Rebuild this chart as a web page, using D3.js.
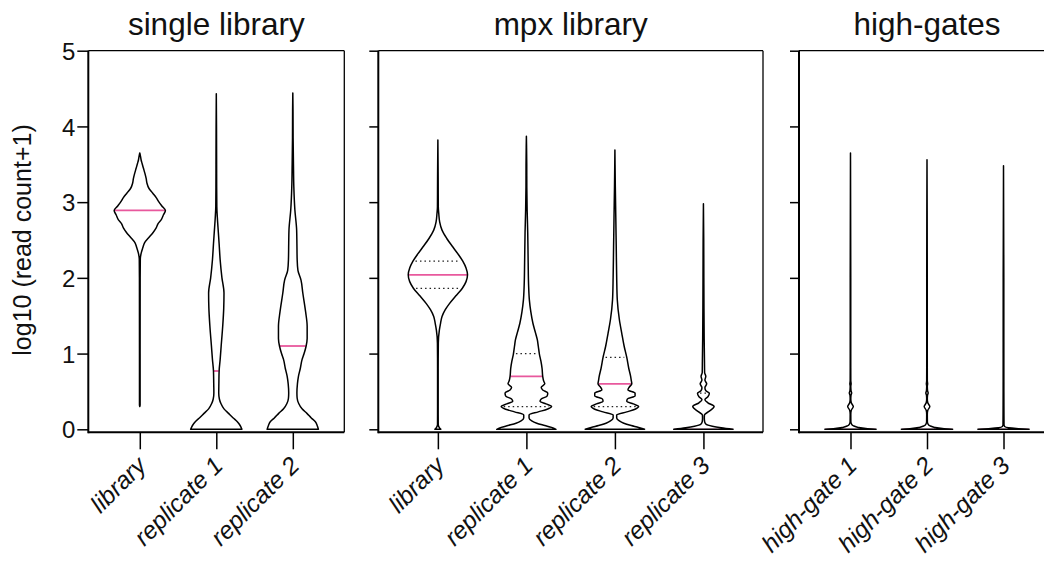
<!DOCTYPE html>
<html><head><meta charset="utf-8">
<script src="https://cdn.jsdelivr.net/npm/d3@7"></script>
<style>
body{margin:0;background:#fff}
text{font-family:"Liberation Sans", Arial, Helvetica, sans-serif;fill:#111}
</style>
</head><body><svg id="c" width="1044" height="563"></svg>
<script>
// ---------------- data ----------------
const panelTitles = ["single library", "mpx library", "high-gates"];
const categoriesSingle = ["library", "replicate 1", "replicate 2"];
const categoriesMpx = ["library", "replicate 1", "replicate 2", "replicate 3"];
const categoriesGates = ["high-gate 1", "high-gate 2", "high-gate 3"];
const yTicks = [0, 1, 2, 3, 4, 5];
const yLabel = "log10 (read count+1)";

// densities: [log10 value, relative density (max = 1)]
const singleLibrary = [[0.30,0],[0.32,0.012],[1.0,0.012],[2.0,0.014],[2.25,0.02],[2.32,0.05],[2.40,0.12],[2.46,0.18],[2.54,0.37],[2.60,0.52],[2.66,0.64],[2.72,0.72],[2.77,0.84],[2.83,0.92],[2.89,1.0],[2.95,0.86],[3.01,0.73],[3.06,0.64],[3.12,0.5],[3.18,0.36],[3.25,0.28],[3.31,0.25],[3.38,0.2],[3.45,0.14],[3.51,0.09],[3.56,0.05],[3.60,0.03],[3.65,0]];
const singleRep1 = [[0,1.0],[0.05,0.93],[0.10,0.82],[0.15,0.66],[0.21,0.48],[0.27,0.3],[0.34,0.18],[0.40,0.12],[0.48,0.095],[0.6,0.1],[0.77,0.11],[0.92,0.15],[1.1,0.19],[1.36,0.25],[1.6,0.29],[1.8,0.30],[2.0,0.22],[2.24,0.15],[2.45,0.11],[2.6,0.08],[2.8,0.04],[2.94,0.02],[3.2,0.014],[3.5,0.012],[4.0,0.008],[4.43,0]];
const singleRep2 = [[0,1.0],[0.05,0.95],[0.10,0.88],[0.15,0.72],[0.21,0.55],[0.27,0.36],[0.34,0.23],[0.41,0.17],[0.48,0.16],[0.6,0.18],[0.7,0.22],[0.8,0.29],[0.92,0.36],[1.0,0.44],[1.1,0.52],[1.2,0.56],[1.36,0.56],[1.55,0.5],[1.8,0.39],[1.97,0.32],[2.1,0.2],[2.24,0.17],[2.45,0.16],[2.63,0.15],[2.9,0.08],[3.2,0.04],[3.5,0.025],[3.85,0.012],[4.2,0.008],[4.44,0]];
const mpxLibrary = [[0,0.1],[0.03,0.04],[0.06,0.012],[0.3,0.01],[0.8,0.01],[1.14,0.015],[1.31,0.05],[1.40,0.09],[1.49,0.14],[1.58,0.25],[1.66,0.39],[1.76,0.6],[1.86,0.82],[1.95,0.95],[2.04,1.0],[2.13,0.95],[2.22,0.84],[2.32,0.67],[2.41,0.5],[2.52,0.3],[2.63,0.14],[2.74,0.06],[2.85,0.03],[2.94,0.014],[3.3,0.01],[3.82,0]];
const mpxRep1 = [[0,1.0],[0.025,0.85],[0.05,0.62],[0.08,0.35],[0.11,0.18],[0.15,0.09],[0.19,0.09],[0.23,0.4],[0.265,0.7],[0.30,0.85],[0.335,0.66],[0.37,0.46],[0.40,0.5],[0.44,0.7],[0.48,0.72],[0.52,0.55],[0.555,0.5],[0.60,0.62],[0.64,0.58],[0.70,0.55],[0.8,0.53],[0.9,0.49],[0.99,0.44],[1.1,0.4],[1.18,0.37],[1.27,0.31],[1.4,0.22],[1.55,0.15],[1.71,0.1],[1.9,0.075],[2.2,0.06],[2.6,0.045],[2.9,0.025],[3.2,0.014],[3.5,0.012],[3.87,0]];
const mpxRep2 = [[0,1.0],[0.025,0.8],[0.05,0.55],[0.08,0.3],[0.11,0.15],[0.15,0.06],[0.19,0.06],[0.23,0.4],[0.265,0.68],[0.30,0.8],[0.335,0.62],[0.37,0.4],[0.40,0.42],[0.44,0.68],[0.48,0.68],[0.52,0.44],[0.555,0.48],[0.60,0.57],[0.65,0.55],[0.70,0.53],[0.8,0.47],[0.95,0.4],[1.1,0.31],[1.27,0.23],[1.45,0.15],[1.71,0.08],[2.0,0.06],[2.4,0.045],[2.8,0.03],[3.2,0.014],[3.69,0]];
const mpxRep3 = [[0,1.0],[0.02,0.6],[0.04,0.3],[0.07,0.08],[0.10,0.04],[0.15,0.03],[0.19,0.035],[0.24,0.2],[0.30,0.36],[0.35,0.15],[0.39,0.05],[0.43,0.15],[0.477,0.2],[0.51,0.08],[0.55,0.05],[0.60,0.11],[0.65,0.05],[0.70,0.08],[0.75,0.04],[0.9,0.035],[1.2,0.025],[1.6,0.018],[2.0,0.014],[2.5,0.01],[2.98,0]];
const gate1 = [[0,1.0],[0.01,0.6],[0.025,0.3],[0.045,0.12],[0.07,0.04],[0.1,0.015],[0.2,0.012],[0.25,0.03],[0.30,0.11],[0.35,0.03],[0.40,0.012],[0.45,0.02],[0.48,0.045],[0.51,0.02],[0.57,0.012],[0.60,0.025],[0.64,0.012],[1.0,0.01],[2.0,0.01],[3.65,0]];
const gate2 = [[0,1.0],[0.01,0.6],[0.025,0.3],[0.045,0.12],[0.07,0.04],[0.1,0.015],[0.2,0.012],[0.25,0.03],[0.30,0.11],[0.35,0.03],[0.40,0.012],[0.45,0.02],[0.48,0.045],[0.51,0.02],[0.57,0.012],[0.60,0.025],[0.64,0.012],[1.0,0.01],[2.0,0.01],[3.56,0]];
const gate3 = [[0,1.0],[0.01,0.5],[0.02,0.2],[0.035,0.05],[0.06,0.02],[0.3,0.016],[0.5,0.014],[1.0,0.013],[2.0,0.012],[3.48,0]];

const mediansSingle = [2.89, 0.77, 1.10];
const mediansMpx = [2.04, 0.70, 0.60, 0.0];
const q1Mpx = [1.86, 0.30, 0.30, null];
const q3Mpx = [2.22, 1.00, 0.95, 0.477];
const mediansGates = [0, 0, 0];

const panelsData = [
  {title: panelTitles[0], cats: categoriesSingle, dens: [singleLibrary, singleRep1, singleRep2], med: mediansSingle, q1: [null,null,null], q3: [null,null,null]},
  {title: panelTitles[1], cats: categoriesMpx, dens: [mpxLibrary, mpxRep1, mpxRep2, mpxRep3], med: mediansMpx, q1: q1Mpx, q3: q3Mpx},
  {title: panelTitles[2], cats: categoriesGates, dens: [gate1, gate2, gate3], med: mediansGates, q1: [null,null,null], q3: [null,null,null]}
];

// ---------------- layout ----------------
const svg = d3.select("#c");
const yTop = 50.7, yZero = 429.3, axisY = 432.3;
const y = d3.scaleLinear().domain([0, 5]).range([yZero, yTop]);
const panelX = [[88.3, 344.3], [378.3, 763], [799, 1055]];
const pink = "#e8589d";

function interp(dens, v) {
  for (let i = 1; i < dens.length; i++) {
    if (v <= dens[i][0]) {
      const a = dens[i-1], b = dens[i];
      const t = (v - a[0]) / (b[0] - a[0] || 1);
      return a[1] + t * (b[1] - a[1]);
    }
  }
  return dens[dens.length-1][1];
}

panelsData.forEach((p, pi) => {
  const [x0, x1] = panelX[pi];
  const x = d3.scalePoint().domain(p.cats).range([x0, x1]).padding(0.673);
  const w = d3.scaleLinear().domain([0, 1]).range([0, x.step() * 0.335]);
  const g = svg.append("g");

  g.append("text").attr("x", (x0 + x1) / 2).attr("y", 35).attr("text-anchor", "middle")
    .style("font-size", "31.5px").text(p.title);

  p.cats.forEach((c, ci) => {
    const cx = x(c);
    const d = p.dens[ci];
    const area = d3.area()
      .y(e => y(e[0]))
      .x0(e => cx - w(e[1]))
      .x1(e => cx + w(e[1]))
      .curve(d3.curveMonotoneY);
    g.append("path").attr("d", area(d)).attr("fill", "#fff").attr("stroke", "none");
    [p.q1[ci], p.q3[ci]].forEach(q => {
      if (q === null) return;
      const hw = w(interp(d, q)) - 2.5;
      g.append("line").attr("x1", cx - hw).attr("x2", cx + hw).attr("y1", y(q)).attr("y2", y(q))
        .attr("stroke", "#222").attr("stroke-width", 1.2).attr("stroke-dasharray", "1.5,3");
    });
    const m = p.med[ci];
    const mw = w(interp(d, m)) - 0.5;
    g.append("line").attr("x1", cx - mw).attr("x2", cx + mw).attr("y1", y(m)).attr("y2", y(m))
      .attr("stroke", pink).attr("stroke-width", m > 0 ? 1.8 : 1.2);
    g.append("path").attr("d", area(d)).attr("fill", "none").attr("stroke", "#000")
      .attr("stroke-width", 1.5).attr("stroke-linejoin", "round");
  });

  g.append("line").attr("x1", x0).attr("x2", x1).attr("y1", yTop).attr("y2", yTop).attr("stroke", "#000").attr("stroke-width", 1.3);
  g.append("line").attr("x1", x1).attr("x2", x1).attr("y1", yTop).attr("y2", axisY).attr("stroke", "#000").attr("stroke-width", 1.3);

  const ya = d3.axisLeft(y).tickValues(yTicks).tickSize(pi === 0 ? 11 : 9).tickPadding(2)
    .tickFormat(pi === 0 ? d3.format("d") : () => "");
  const yg = g.append("g").attr("transform", `translate(${x0},0)`).call(ya);
  yg.select(".domain").remove();
  yg.selectAll(".tick line").attr("stroke", "#000").attr("stroke-width", 1.5);
  yg.selectAll(".tick text").style("font-size", "24px").attr("fill", "#111").attr("dy", "0.36em");
  g.append("line").attr("x1", x0).attr("x2", x0).attr("y1", yTop).attr("y2", axisY + 1).attr("stroke", "#000").attr("stroke-width", 2);

  const xa = d3.axisBottom(x).tickSize(17).tickFormat(() => "");
  const xg = g.append("g").attr("transform", `translate(0,${axisY})`).call(xa);
  xg.select(".domain").remove();
  xg.selectAll(".tick line").attr("stroke", "#000").attr("stroke-width", 1.5);
  g.append("line").attr("x1", x0).attr("x2", x1).attr("y1", axisY).attr("y2", axisY).attr("stroke", "#000").attr("stroke-width", 2);

  p.cats.forEach(c => {
    const tx = x(c) + 8, ty = 467;
    g.append("text").attr("transform", `translate(${tx},${ty}) rotate(-45)`)
      .attr("text-anchor", "end").style("font-size", "24.5px").style("font-style", "italic").text(c);
  });
});

svg.append("text").attr("transform", `translate(31,${(yTop + yZero) / 2}) rotate(-90)`)
  .attr("text-anchor", "middle").style("font-size", "25px").text(yLabel);
</script>
</body></html>
